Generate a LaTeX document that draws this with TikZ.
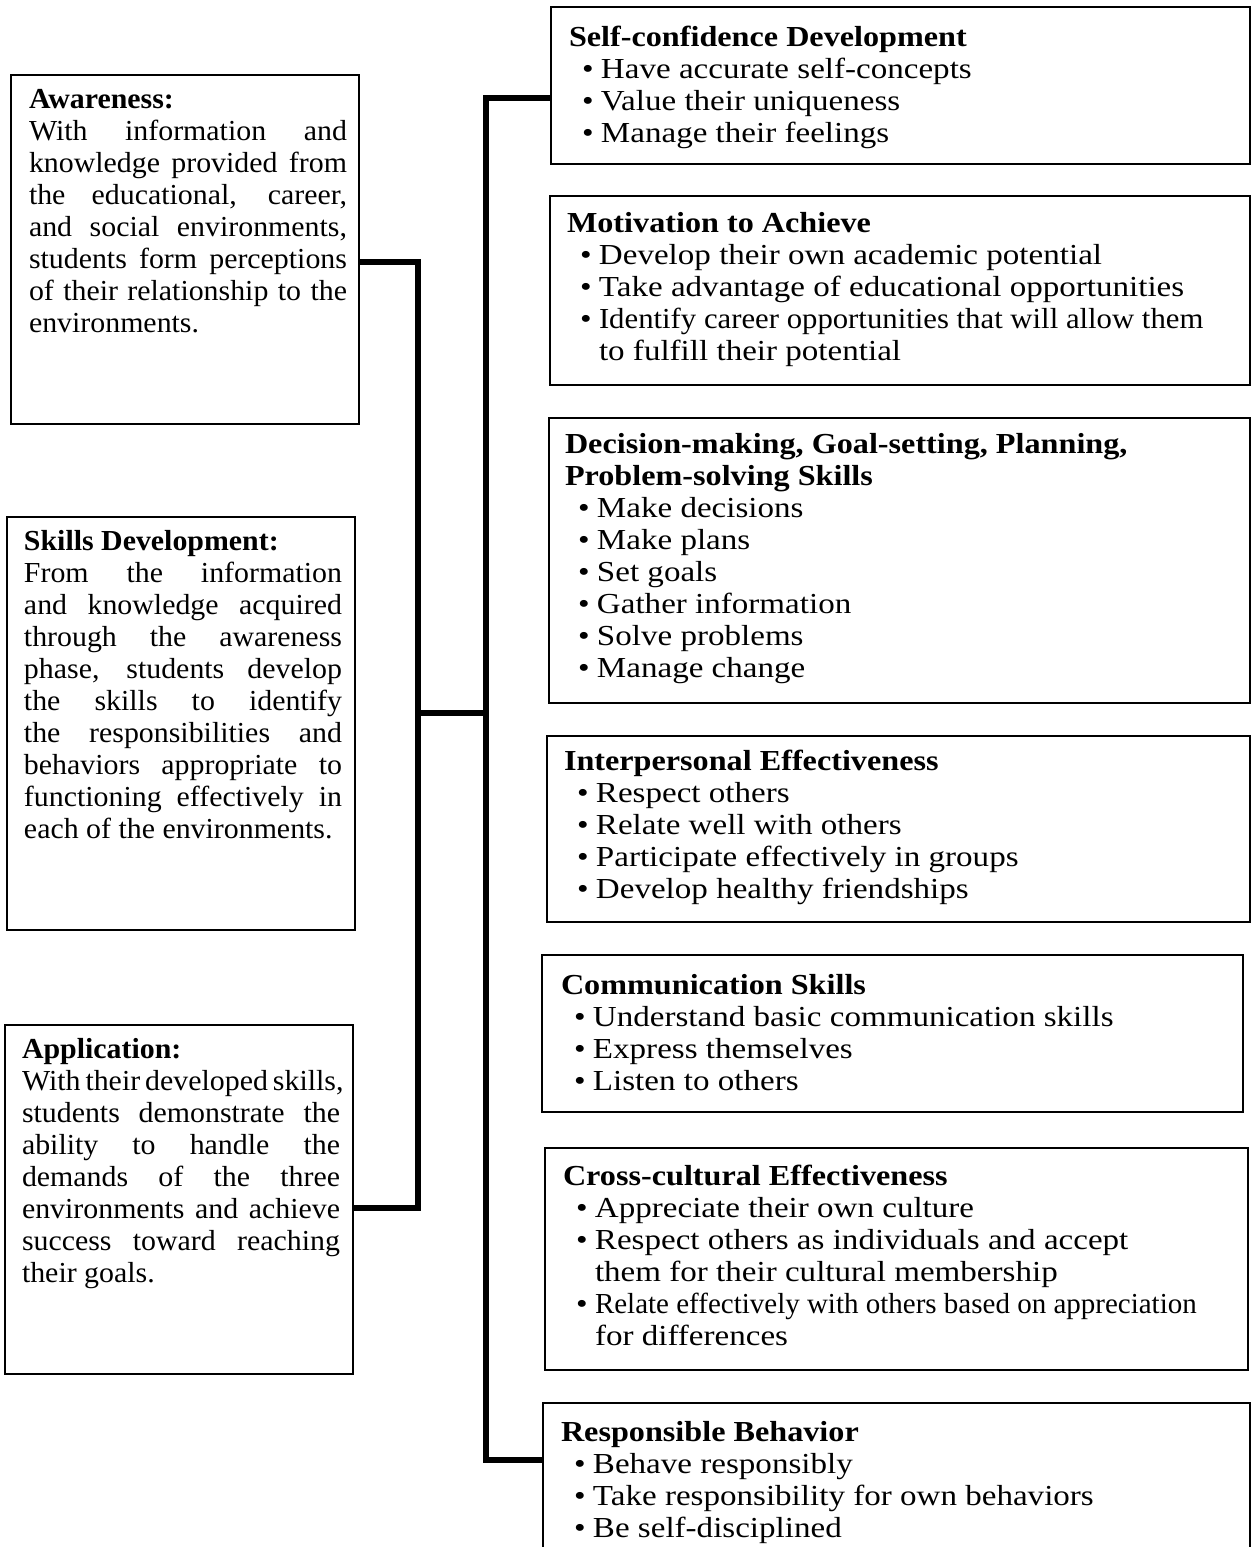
\documentclass[tikz,border=0pt]{standalone}
\usepackage{fontspec}
\setmainfont{Liberation Serif}[FakeStretch=1.14, BoldFeatures={FakeStretch=1.11}]
\newfontfamily\phasefont{Liberation Serif}[FakeStretch=1.03]
\newfontfamily\narrowA{Liberation Serif}[FakeStretch=1.06]
\newfontfamily\narrowB{Liberation Serif}[FakeStretch=1.0]
% justified line of fixed width
\newcommand{\jl}[1]{\makebox[159pt][s]{#1}}
% bullet item and continuation indent
\newcommand{\bl}{\hspace*{6.5pt}\makebox[9.5pt][l]{\textbullet}}
\newcommand{\cont}{\hspace*{16pt}}
\begin{document}
\begin{tikzpicture}[x=0.5pt,y=-0.5pt,
  box/.style={draw, line width=1.3pt, anchor=north west, inner sep=0pt, outer sep=0pt},
  txt/.style={anchor=north west, inner sep=0pt, outer sep=0pt, align=left,
    font=\fontsize{14.5}{16}\selectfont},
  ptxt/.style={txt, font=\phasefont\fontsize{14.5}{16}\selectfont},
  link/.style={line width=2.8pt, line join=miter}]
\useasboundingbox (0,0) rectangle (1252,1547);
\clip (0,0) rectangle (1252,1547);

% ---------- phase boxes (left) ----------
\node[box, minimum width=174pt, minimum height=174.5pt] (aw) at (11,75) {};
\node[box, minimum width=174pt, minimum height=206.5pt] (sk) at (7,517) {};
\node[box, minimum width=174pt, minimum height=174.5pt] (ap) at (5,1025) {};

\node[ptxt] (awt) at (29,85.6) {\strut\textbf{Awareness:}\\
\jl{With information and}\\
\jl{knowledge provided from}\\
\jl{the educational, career,}\\
\jl{and social environments,}\\
\jl{students form perceptions}\\
\jl{of their relationship to the}\\
environments.};

\node[ptxt] (skt) at (24,527.6) {\strut\textbf{Skills Development:}\\
\jl{From the information}\\
\jl{and knowledge acquired}\\
\jl{through the awareness}\\
\jl{phase, students develop}\\
\jl{the skills to identify}\\
\jl{the responsibilities and}\\
\jl{behaviors appropriate to}\\
\jl{functioning effectively in}\\
each of the environments.};

\node[ptxt] (apt) at (22,1035.6) {\strut\textbf{Application:}\\
\jl{With their developed skills,}\\
\jl{students demonstrate the}\\
\jl{ability to handle the}\\
\jl{demands of the three}\\
\jl{environments and achieve}\\
\jl{success toward reaching}\\
their goals.};

% ---------- outcome boxes (right) ----------
\node[box, minimum width=349.5pt, minimum height=78.5pt]  (sc) at (551,7) {};
\node[box, minimum width=350pt,   minimum height=94.5pt]  (mo) at (550,196) {};
\node[box, minimum width=350.5pt, minimum height=142.5pt] (dm) at (549,418) {};
\node[box, minimum width=351.5pt, minimum height=93pt]    (ie) at (547,736) {};
\node[box, minimum width=350.5pt, minimum height=78.5pt]  (cs) at (542,955) {};
\node[box, minimum width=351.5pt, minimum height=111pt]   (cc) at (545,1148) {};
\node[box, minimum width=353.5pt, minimum height=80pt]    (rb) at (543,1403) {};

\node[txt] (sct) at (569,23.6) {\strut\textbf{Self-confidence Development}\\
\bl Have accurate self-concepts\\
\bl Value their uniqueness\\
\bl Manage their feelings};

\node[txt] (mot) at (567,209.6) {\strut\textbf{Motivation to Achieve}\\
\bl Develop their own academic potential\\
\bl Take advantage of educational opportunities\\
\bl {\narrowA Identify career opportunities that will allow them}\\
\cont to fulfill their potential};

\node[txt] (dmt) at (565,430.6) {\strut\textbf{Decision-making, Goal-setting, Planning,}\\
\textbf{Problem-solving Skills}\\
\bl Make decisions\\
\bl Make plans\\
\bl Set goals\\
\bl Gather information\\
\bl Solve problems\\
\bl Manage change};

\node[txt] (iet) at (564,747.6) {\strut\textbf{Interpersonal Effectiveness}\\
\bl Respect others\\
\bl Relate well with others\\
\bl Participate effectively in groups\\
\bl Develop healthy friendships};

\node[txt] (cst) at (561,971.6) {\strut\textbf{Communication Skills}\\
\bl Understand basic communication skills\\
\bl Express themselves\\
\bl Listen to others};

\node[txt] (cct) at (563,1162.6) {\strut\textbf{Cross-cultural Effectiveness}\\
\bl Appreciate their own culture\\
\bl Respect others as individuals and accept\\
\cont them for their cultural membership\\
\bl {\narrowB Relate effectively with others based on appreciation}\\
\cont for differences};

\node[txt] (rbt) at (561,1418.6) {\strut\textbf{Responsible Behavior}\\
\bl Behave responsibly\\
\bl Take responsibility for own behaviors\\
\bl Be self-disciplined};

% ---------- connectors ----------
\coordinate (jA) at (418,262);
\coordinate (jM) at (418,713);
\coordinate (jB) at (418,1208);
\coordinate (kT) at (486,98);
\coordinate (kM) at (486,713);
\coordinate (kB) at (486,1460);

\draw[link] (aw.east |- jA) -- (jA) -- (jB) -- (ap.east |- jB);
\draw[link] (jM) -- (kM);
\draw[link] (sc.west |- kT) -- (kT) -- (kB) -- (rb.west |- kB);
\end{tikzpicture}
\end{document}
